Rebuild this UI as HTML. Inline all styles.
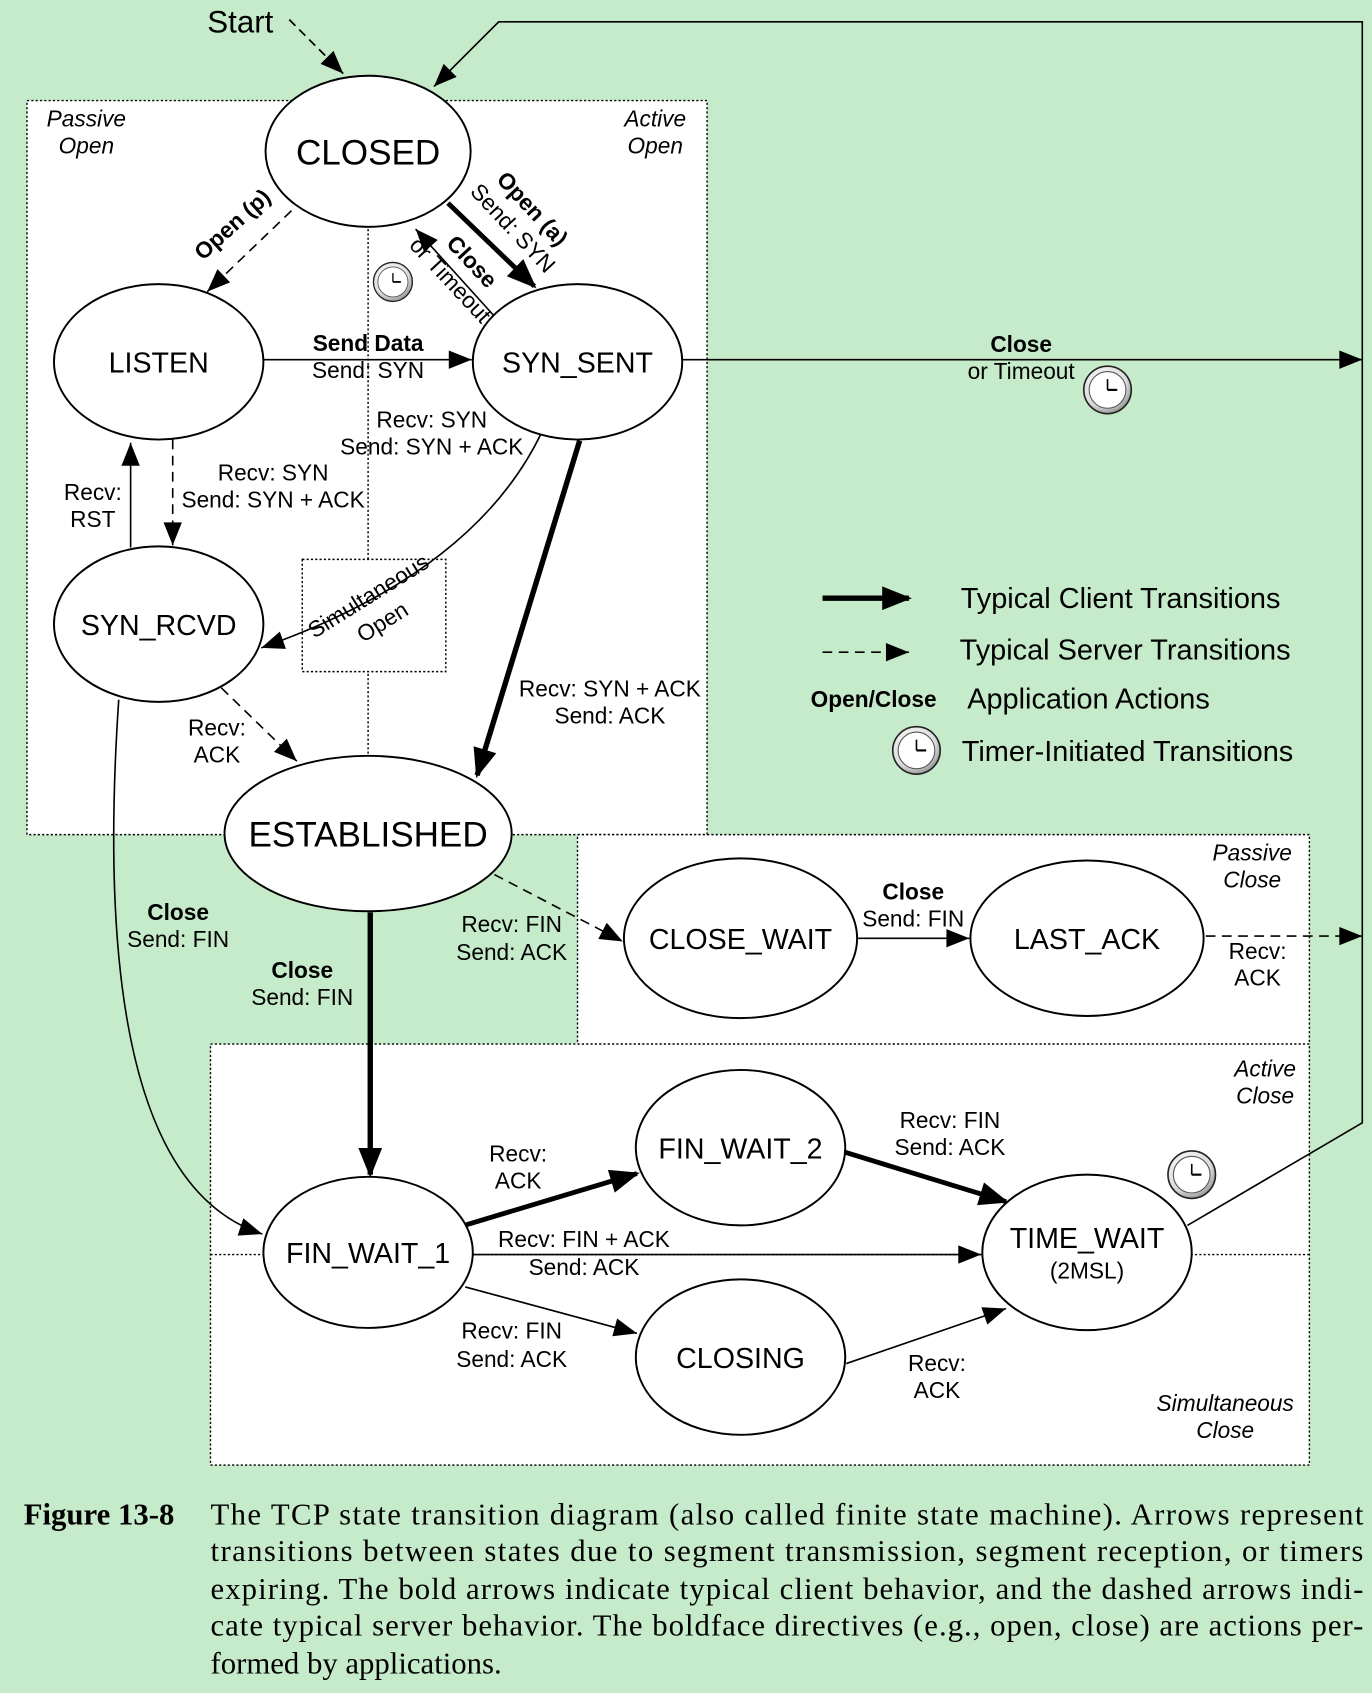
<!DOCTYPE html>
<html><head><meta charset="utf-8"><style>
html,body{margin:0;padding:0;background:#c6ebcb;}
svg{display:block;}
text{font-family:"Liberation Sans",sans-serif;fill:#000;}
.s{font-size:21px;}
.b{font-weight:bold;}
.i{font-style:italic;font-size:21px;}
.cap{font-family:"Liberation Serif",serif;font-size:28.5px;}
</style></head><body>
<svg width="1372" height="1693" viewBox="0 0 1271 1568" xmlns="http://www.w3.org/2000/svg">
<defs>
<marker id="m" viewBox="0 0 10 8" markerWidth="24" markerHeight="17" refX="10" refY="4" orient="auto" markerUnits="userSpaceOnUse"><path d="M0,0 L10,4 L0,8z"/></marker>
<marker id="mb" viewBox="0 0 10 8" markerWidth="30" markerHeight="22" refX="9" refY="4" orient="auto" markerUnits="userSpaceOnUse"><path d="M0,0 L10,4 L0,8z"/></marker>
<radialGradient id="cg" cx="40%" cy="35%" r="70%"><stop offset="0" stop-color="#fff"/><stop offset="0.7" stop-color="#ddd"/><stop offset="1" stop-color="#888"/></radialGradient>
<g id="clk"><circle r="22" fill="url(#cg)" stroke="#222" stroke-width="1.5"/><circle r="17" fill="#fff" stroke="#555" stroke-width="1"/><line x1="0" y1="0" x2="0" y2="-10" stroke="#000" stroke-width="1.5"/><line x1="0" y1="0" x2="9" y2="0" stroke="#000" stroke-width="2"/></g>
</defs>
<rect width="1271" height="1568" fill="#c6ebcb"/>
<rect x="25" y="93" width="630" height="680" fill="#fff" stroke="#000" stroke-width="1.3" stroke-dasharray="2,2"/>
<rect x="535" y="773" width="678" height="194" fill="#fff" stroke="#000" stroke-width="1.3" stroke-dasharray="2,2"/>
<rect x="195" y="967" width="1018" height="390" fill="#fff" stroke="#000" stroke-width="1.3" stroke-dasharray="2,2"/>
<line x1="195" y1="1162" x2="1213" y2="1162" stroke="#000" stroke-width="1.3" stroke-dasharray="2,2"/>
<line x1="341" y1="212" x2="341" y2="700" stroke="#000" stroke-width="1.3" stroke-dasharray="2,2"/>
<rect x="280" y="518" width="133" height="104" fill="#fff" stroke="#000" stroke-width="1.3" stroke-dasharray="2,2"/>
<text class="i" x="80" y="117" text-anchor="middle">Passive</text><text class="i" x="80" y="142" text-anchor="middle">Open</text>
<text class="i" x="607" y="117" text-anchor="middle">Active</text><text class="i" x="607" y="142" text-anchor="middle">Open</text>
<text class="i" x="1160" y="797" text-anchor="middle">Passive</text><text class="i" x="1160" y="822" text-anchor="middle">Close</text>
<text class="i" x="1172" y="997" text-anchor="middle">Active</text><text class="i" x="1172" y="1022" text-anchor="middle">Close</text>
<text class="i" x="1135" y="1307" text-anchor="middle">Simultaneous</text><text class="i" x="1135" y="1332" text-anchor="middle">Close</text>
<g fill="none" stroke="#000">
<path d="M268,18 L318,68" stroke-width="1.6" stroke-dasharray="8,5" marker-end="url(#m)"/>
<path d="M1100,1135 L1262,1040 L1262,20 L462,20 L402,80" stroke-width="1.5" marker-end="url(#m)"/>
<path d="M270,195 L192,270" stroke-width="1.5" stroke-dasharray="9,6" marker-end="url(#m)"/>
<path d="M415,188 L495,265" stroke-width="4.5" marker-end="url(#mb)"/>
<path d="M460,295 L385,212" stroke-width="1.5" marker-end="url(#m)"/>
<path d="M244,333 L437,333" stroke-width="1.5" marker-end="url(#m)"/>
<path d="M632,333 L1262,333" stroke-width="1.5" marker-end="url(#m)"/>
<path d="M160,407 L160,505" stroke-width="1.5" stroke-dasharray="9,6" marker-end="url(#m)"/>
<path d="M121,507 L121,410" stroke-width="1.5" marker-end="url(#m)"/>
<path d="M502,400 Q440,530 242,600" stroke-width="1.5" marker-end="url(#m)"/>
<path d="M537,408 L442,718" stroke-width="5" marker-end="url(#mb)"/>
<path d="M205,637 L275,705" stroke-width="1.5" stroke-dasharray="9,6" marker-end="url(#m)"/>
<path d="M110,648 Q80,1090 243,1143" stroke-width="1.5" marker-end="url(#m)"/>
<path d="M458,810 L577,872" stroke-width="1.5" stroke-dasharray="9,6" marker-end="url(#m)"/>
<path d="M343,845 L343,1088" stroke-width="5" marker-end="url(#mb)"/>
<path d="M795,869 L898,869" stroke-width="1.5" marker-end="url(#m)"/>
<path d="M1117,867 L1262,867" stroke-width="1.5" stroke-dasharray="9,6" marker-end="url(#m)"/>
<path d="M430,1135 L590,1087" stroke-width="4.5" marker-end="url(#mb)"/>
<path d="M782,1067 L932,1113" stroke-width="4.5" marker-end="url(#mb)"/>
<path d="M437,1162 L909,1162" stroke-width="1.5" marker-end="url(#m)"/>
<path d="M431,1192 L590,1235" stroke-width="1.5" marker-end="url(#m)"/>
<path d="M784,1263 L932,1212" stroke-width="1.5" marker-end="url(#m)"/>
</g>
<g fill="#fff" stroke="#000" stroke-width="1.8">
<ellipse cx="341" cy="140" rx="95" ry="70"/>
<ellipse cx="147" cy="335" rx="97" ry="72"/>
<ellipse cx="535" cy="335" rx="97" ry="72"/>
<ellipse cx="147" cy="578" rx="97" ry="72"/>
<ellipse cx="341" cy="772" rx="133" ry="72"/>
<ellipse cx="686" cy="869" rx="108" ry="74"/>
<ellipse cx="1007" cy="869" rx="108" ry="72"/>
<ellipse cx="686" cy="1063" rx="97" ry="72"/>
<ellipse cx="341" cy="1160" rx="97" ry="70"/>
<ellipse cx="1007" cy="1160" rx="97" ry="72"/>
<ellipse cx="686" cy="1257" rx="97" ry="72"/>
</g>
<g text-anchor="middle">
<text x="341" y="152" style="font-size:32.5px">CLOSED</text>
<text x="147" y="345" style="font-size:26.5px">LISTEN</text>
<text x="535" y="345" style="font-size:26.5px">SYN_SENT</text>
<text x="147" y="588" style="font-size:26.5px">SYN_RCVD</text>
<text x="341" y="784" style="font-size:32.5px">ESTABLISHED</text>
<text x="686" y="879" style="font-size:26.5px">CLOSE_WAIT</text>
<text x="1007" y="879" style="font-size:26.5px">LAST_ACK</text>
<text x="686" y="1073" style="font-size:26.5px">FIN_WAIT_2</text>
<text x="341" y="1170" style="font-size:26.5px">FIN_WAIT_1</text>
<text x="1007" y="1156" style="font-size:26.5px">TIME_WAIT</text>
<text x="1007" y="1184" class="s">(2MSL)</text>
<text x="686" y="1267" style="font-size:26.5px">CLOSING</text>
</g>
<text x="192" y="30" style="font-size:29px">Start</text>
<g>
<text class="s b" transform="translate(220,213) rotate(-42)" text-anchor="middle">Open (p)</text>
<text class="s b" transform="translate(488,198) rotate(47)" text-anchor="middle">Open (a)</text>
<text class="s" transform="translate(470,216) rotate(47)" text-anchor="middle">Send: SYN</text>
<text class="s b" transform="translate(432,247) rotate(47)" text-anchor="middle">Close</text>
<text class="s" transform="translate(412,264) rotate(47)" text-anchor="middle">or Timeout</text>
<text class="s" transform="translate(345,558) rotate(-32)" text-anchor="middle">Simultaneous</text>
<text class="s" transform="translate(358,582) rotate(-32)" text-anchor="middle">Open</text>
<text class="s b" x="341" y="325" text-anchor="middle">Send Data</text>
<text class="s" x="341" y="350" text-anchor="middle">Send: SYN</text>
<text class="s b" x="946" y="326" text-anchor="middle">Close</text>
<text class="s" x="946" y="351" text-anchor="middle">or Timeout</text>
<text class="s" x="400" y="396" text-anchor="middle">Recv: SYN</text>
<text class="s" x="400" y="421" text-anchor="middle">Send: SYN + ACK</text>
<text class="s" x="253" y="445" text-anchor="middle">Recv: SYN</text>
<text class="s" x="253" y="470" text-anchor="middle">Send: SYN + ACK</text>
<text class="s" x="86" y="463" text-anchor="middle">Recv:</text>
<text class="s" x="86" y="488" text-anchor="middle">RST</text>
<text class="s" x="565" y="645" text-anchor="middle">Recv: SYN + ACK</text>
<text class="s" x="565" y="670" text-anchor="middle">Send: ACK</text>
<text class="s" x="201" y="681" text-anchor="middle">Recv:</text>
<text class="s" x="201" y="706" text-anchor="middle">ACK</text>
<text class="s b" x="165" y="852" text-anchor="middle">Close</text>
<text class="s" x="165" y="877" text-anchor="middle">Send: FIN</text>
<text class="s b" x="280" y="906" text-anchor="middle">Close</text>
<text class="s" x="280" y="931" text-anchor="middle">Send: FIN</text>
<text class="s" x="474" y="863" text-anchor="middle">Recv: FIN</text>
<text class="s" x="474" y="889" text-anchor="middle">Send: ACK</text>
<text class="s b" x="846" y="833" text-anchor="middle">Close</text>
<text class="s" x="846" y="858" text-anchor="middle">Send: FIN</text>
<text class="s" x="1165" y="888" text-anchor="middle">Recv:</text>
<text class="s" x="1165" y="913" text-anchor="middle">ACK</text>
<text class="s" x="480" y="1076" text-anchor="middle">Recv:</text>
<text class="s" x="480" y="1101" text-anchor="middle">ACK</text>
<text class="s" x="880" y="1045" text-anchor="middle">Recv: FIN</text>
<text class="s" x="880" y="1070" text-anchor="middle">Send: ACK</text>
<text class="s" x="541" y="1155" text-anchor="middle">Recv: FIN + ACK</text>
<text class="s" x="541" y="1181" text-anchor="middle">Send: ACK</text>
<text class="s" x="474" y="1240" text-anchor="middle">Recv: FIN</text>
<text class="s" x="474" y="1266" text-anchor="middle">Send: ACK</text>
<text class="s" x="868" y="1270" text-anchor="middle">Recv:</text>
<text class="s" x="868" y="1295" text-anchor="middle">ACK</text>
</g>
<use href="#clk" transform="translate(364,261) scale(0.82)"/>
<use href="#clk" transform="translate(1026,361)"/>
<use href="#clk" transform="translate(849,695)"/>
<use href="#clk" transform="translate(1104,1088)"/>
<line x1="762" y1="554" x2="842" y2="554" stroke="#000" stroke-width="5" marker-end="url(#mb)"/>
<line x1="762" y1="604" x2="842" y2="604" stroke="#000" stroke-width="1.5" stroke-dasharray="9,6" marker-end="url(#m)"/>
<text x="890" y="563" style="font-size:26.8px">Typical Client Transitions</text>
<text x="889" y="611" style="font-size:26.8px">Typical Server Transitions</text>
<text x="751" y="655" class="s b">Open/Close</text>
<text x="896" y="656" style="font-size:26.8px">Application Actions</text>
<text x="891" y="705" style="font-size:26.8px">Timer-Initiated Transitions</text>
<text class="cap b" x="22" y="1412">Figure 13-8</text>
<text class="cap" x="195" y="1412" textLength="1068" lengthAdjust="spacing">The TCP state transition diagram (also called finite state machine). Arrows represent</text>
<text class="cap" x="195" y="1446" textLength="1068" lengthAdjust="spacing">transitions between states due to segment transmission, segment reception, or timers</text>
<text class="cap" x="195" y="1481" textLength="1068" lengthAdjust="spacing">expiring. The bold arrows indicate typical client behavior, and the dashed arrows indi-</text>
<text class="cap" x="195" y="1515" textLength="1068" lengthAdjust="spacing">cate typical server behavior. The boldface directives (e.g., open, close) are actions per-</text>
<text class="cap" x="195" y="1550">formed by applications.</text>
</svg>
</body></html>
